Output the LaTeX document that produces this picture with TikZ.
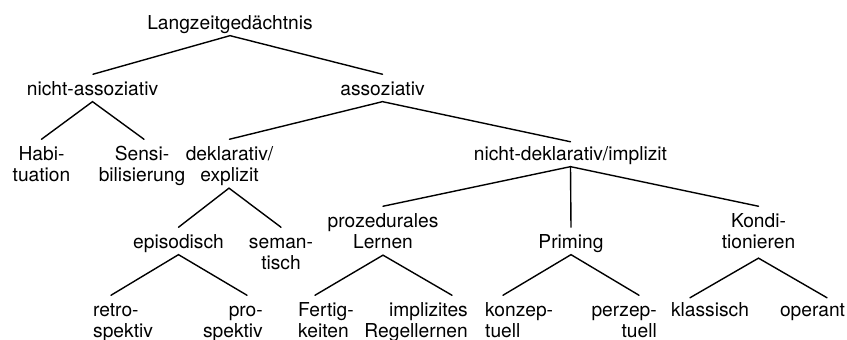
\documentclass[tikz,border=0pt]{standalone}
\usepackage{fontspec}
\setmainfont{TeX Gyre Heros}
\newcommand{\tc}[1]{\begin{tabular}[t]{@{}c@{}}#1\end{tabular}}
\newcommand{\tl}[1]{\begin{tabular}[t]{@{}l@{}}#1\end{tabular}}
\newcommand{\tr}[1]{\begin{tabular}[t]{@{}r@{}}#1\end{tabular}}
\begin{document}
\begin{tikzpicture}[x=1pt,y=-1pt,
  lbl/.style={inner sep=0pt, font=\fontsize{19.2}{21.5}\selectfont},
  link/.style={line width=1.4pt, line cap=round}]
\useasboundingbox (0,0) rectangle (847,340);
% level 0
\node[lbl,anchor=base] (lz) at (230,29) {\tc{Langzeitgedächtnis}};
% level 1
\node[lbl,anchor=base] (na) at (92.5,95) {\tc{nicht-assoziativ}};
\node[lbl,anchor=base] (as) at (382.5,95) {\tc{assoziativ}};
% level 2
\node[lbl,anchor=base] (hab) at (41.5,160) {\tc{Habi-\\tuation}};
\node[lbl,anchor=base] (sen) at (142,160) {\tc{Sensi-\\bilisierung}};
\node[lbl,anchor=base] (dek) at (229.5,160) {\tc{deklarativ/\\explizit}};
\node[lbl,anchor=base] (ndi) at (570.5,160) {\tc{nicht-deklarativ/implizit}};
% level 3
\node[lbl,anchor=base] (epi) at (178.5,248) {\tc{episodisch}};
\node[lbl,anchor=base] (sem) at (281,248) {\tc{seman-\\tisch}};
\node[lbl,anchor=base] (pro) at (383,227) {\tc{prozedurales\\Lernen}};
\node[lbl,anchor=base] (pri) at (571,248) {\tc{Priming}};
\node[lbl,anchor=base] (kon) at (758.5,227) {\tc{Kondi-\\tionieren}};
% level 4
\node[lbl,anchor=base west] (retro) at (93,316) {\tl{retro-\\spektiv}};
\node[lbl,anchor=base east] (prosp) at (263,316) {\tr{pro-\\spektiv}};
\node[lbl,anchor=base west] (fert) at (298,316) {\tl{Fertig-\\keiten}};
\node[lbl,anchor=base east] (impl) at (468,316) {\tr{implizites\\Regellernen}};
\node[lbl,anchor=base west] (konz) at (485,316) {\tl{konzep-\\tuell}};
\node[lbl,anchor=base east] (perz) at (657,316) {\tr{perzep-\\tuell}};
\node[lbl,anchor=base] (klass) at (710,316) {\tc{klassisch}};
\node[lbl,anchor=base] (oper) at (812.5,316) {\tc{operant}};
% connectors
\draw[link] ([xshift=0.5pt]na.north) ++(0,-5.5) -- ([yshift=0pt]lz.south) -- ([yshift=5.5pt]as.north);
\draw[link] ([yshift=5.5pt]hab.north) -- (na.south) -- ([xshift=2pt,yshift=5.5pt]sen.north);
\draw[link] ([yshift=5.5pt]dek.north) -- (as.south) -- ([yshift=3pt]ndi.north);
\draw[link] ([yshift=5.5pt]epi.north) -- ([xshift=-0.5pt]dek.south) -- ([yshift=5.5pt]sem.north);
\draw[link] ([yshift=5.5pt]pro.north) -- (ndi.south) -- ([yshift=5.5pt]kon.north);
\draw[link] (ndi.south) -- ([yshift=5.5pt]pri.north);
\draw[link] ([xshift=18pt,yshift=5.5pt]retro.north west) -- (epi.south) -- ([xshift=-16pt,yshift=5.5pt]prosp.north east);
\draw[link] ([xshift=17pt,yshift=5.5pt]fert.north west) -- (pro.south) -- ([xshift=-16pt,yshift=5.5pt]impl.north east);
\draw[link] ([xshift=18pt,yshift=5.5pt]konz.north west) -- (pri.south) -- ([xshift=-18pt,yshift=5.5pt]perz.north east);
\draw[link] ([xshift=-20pt,yshift=3pt]klass.north) -- ([yshift=-3pt]kon.south) -- ([xshift=14.5pt,yshift=3pt]oper.north);
\end{tikzpicture}
\end{document}
